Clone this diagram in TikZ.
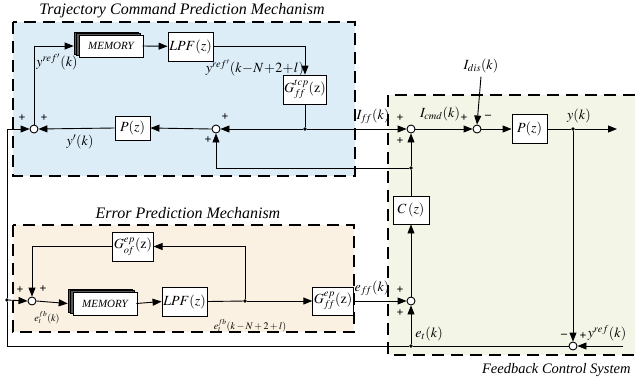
\documentclass[tikz,border=0pt]{standalone}
\usepackage{mathptmx}
\usepackage{fontspec}
\setmainfont{Liberation Serif}
\usetikzlibrary{arrows.meta,shadows}

\definecolor{tcpfill}{RGB}{221,237,248}
\definecolor{epfill}{RGB}{251,241,226}
\definecolor{fbfill}{RGB}{243,246,231}

\begin{document}
\begin{tikzpicture}[
x=1pt,y=-1pt,
font=\fontsize{14}{16}\selectfont,
flow/.style={-{Triangle[length=9pt,width=7pt]},line width=0.9pt},
wire/.style={line width=0.9pt},
block/.style={draw,line width=0.9pt,fill=white,minimum width=36pt,minimum height=28pt,inner sep=1pt},
memblock/.style={draw,line width=0.6pt,fill=white,minimum width=64pt,minimum height=22pt,font=\fontsize{11}{12}\selectfont\itshape,
  double copy shadow={shadow xshift=-2.5pt,shadow yshift=1.5pt,fill=black!65,draw=black}},
sumnode/.style={circle,draw,line width=0.9pt,fill=white,inner sep=0pt,minimum size=8pt},
junction/.style={circle,fill,inner sep=0pt,minimum size=3.8pt},
sign/.style={font=\fontsize{12}{12}\selectfont\bfseries,inner sep=0pt},
small/.style={font=\fontsize{10}{11}\selectfont},
region/.style={line width=2.5pt,dash pattern=on 12pt off 7pt},
title/.style={font=\fontsize{16}{18}\selectfont\itshape}
]
\useasboundingbox (0,0) rectangle (635,384);

% shaded regions
\fill[tcpfill] (13,22) rectangle (355,176);
\draw[region] (13,22) rectangle (355,176);
\fill[epfill] (13,225) rectangle (354,332);
\draw[region] (13,225) rectangle (354,332);
\fill[fbfill] (388,95) rectangle (635,355);
\draw[region] (635,95) -- (388,95) -- (388,355) -- (635,355);
\node[title] (tcptitle) at (182,11) {Trajectory Command Prediction Mechanism};
\node[title] (eptitle) at (188,213) {Error Prediction Mechanism};
\node[title,font=\fontsize{14.5}{16}\selectfont\itshape,anchor=east] (fbtitle) at (634,370) {Feedback Control System};

% trajectory command prediction
\node[sumnode] (s1) at (34,129) {};
\node[memblock] (mem1) at (111,46) {MEMORY};
\node[block,minimum width=45pt,minimum height=29pt] (lpf1) at (190.5,46.5) {$LPF(z)$};
\node[block,minimum width=38pt,minimum height=29pt] (gtcp) at (305,89.5) {$G_{f\!f}^{tcp}(\mathrm{z})$};
\node[junction] (j1) at (305,129) {};
\node[sumnode] (s2) at (216,129) {};
\node[block,minimum width=35pt,minimum height=24pt] (p1) at (132.5,128) {$P(z)$};

% feedback control system
\node[sumnode] (s3) at (411,129) {};
\node[sumnode] (s4) at (477,129) {};
\node (idis) at (481,66) {$I_{dis}(k)$};
\node[block,minimum width=35pt,minimum height=29pt] (p2) at (529.5,129) {$P(z)$};
\node[junction] (j2) at (573,129) {};
\coordinate (yout) at (617,129);
\node[sumnode] (s5) at (573,346) {};
\coordinate (yin) at (623,346);
\node[junction] (j3) at (411,346) {};
\node[sumnode] (s6) at (411,301) {};
\node[block,minimum width=36pt,minimum height=28pt] (cz) at (411,210) {$C\,(z)$};
\node[junction] (j4) at (411,168) {};
\coordinate (cbl) at (7,346);
\coordinate (ctl) at (7,129);
\node[junction] (j5) at (7,300) {};

% error prediction
\node[sumnode] (s7) at (32,301) {};
\node[block,minimum width=38pt,minimum height=29pt] (gof) at (133,246.5) {$G_{o\!f}^{ep}(\mathrm{z})$};
\node[memblock,minimum height=23pt] (mem2) at (105,303.5) {MEMORY};
\node[block,minimum width=45pt,minimum height=29pt] (lpf2) at (184.5,301.5) {$LPF(z)$};
\node[junction] (j6) at (245,301) {};
\node[block,minimum width=38pt,minimum height=28pt] (gffep) at (333,301) {$G_{f\!f}^{ep}(\mathrm{z})$};

% signal labels
\node (lyr1) at (57,62) {$y^{ref'}(k)$};
\node (lyr2) at (255,68) {$y^{ref'}(k\!-\!N\!+\!2\!+\!l)$};
\node (lyp) at (80,142) {$y'(k)$};
\node (liff) at (373,116) {$I_{f\!f}(k)$};
\node (licmd) at (440,114) {$I_{cmd}(k)$};
\node (ly) at (579,116) {$y(k)$};
\node (let) at (429,334) {$e_t(k)$};
\node (lyref) at (607,333) {$y^{ref}(k)$};
\node (leff) at (372,288) {$e_{f\!f}(k)$};
\node[small] (letfb) at (47,318) {$e_t^{fb}(k)$};
\node[small] (letfb2) at (250,326) {$e_t^{fb}(k-N+2+l)$};

% signs
\foreach \x/\y/\s in {22/118/+,44/118/+,225/117/+,208/140/+,400/118/+,400/141/+,464/118/+,488/117/--,
  564/336/--,583/336/+,400/290/+,400/313/+,20/290/+,43/289/+}
  \node[sign] at (\x,\y) {\s};

% connections
\draw[flow] (s1.north) |- ([xshift=-5pt]mem1.west);
\draw[flow] ([xshift=-1pt]mem1.east) -- (lpf1);
\draw[flow] (lpf1.east) -| (gtcp.north);
\draw[wire] (gtcp.south) -- (j1);
\draw[flow] (j1) -- (s2.east);
\draw[flow] (s2.west) -- (p1.east);
\draw[flow] (p1.west) -- (s1.east);
\draw[flow] (j1) -- (s3.west);
\draw[flow] (s3.east) -- (s4.west);
\draw[flow] (idis.south) -- (s4.north);
\draw[flow] (s4.east) -- (p2.west);
\draw[wire] (p2.east) -- (j2);
\draw[flow] (j2) -- (yout);
\draw[flow] (j2) -- (s5.north);
\draw[flow] (yin) -- (s5.east);
\draw[wire] (s5.west) -- (j3) -- (cbl) -- (j5);
\draw[flow] (j5) -- (ctl) -- (s1.west);
\draw[flow] (j3) -- (s6.south);
\draw[flow] (s6.north) -- (cz.south);
\draw[wire] (cz.north) -- (j4);
\draw[flow] (j4) -- (s3.south);
\draw[flow] (j4) -| (s2.south);
\draw[flow] (j5) -- (s7.west);
\draw[flow] (s7.east) -- ([xshift=-5pt]mem2.west);
\draw[flow] ([xshift=-1pt]mem2.east) -- (lpf2.west);
\draw[wire] (lpf2.east) -- (j6);
\draw[flow] (j6) -- (gffep.west);
\draw[flow] (j6) |- (gof.east);
\draw[flow] (gof.west) -| (s7.north);
\draw[flow] (gffep.east) -- (s6.west);
\end{tikzpicture}
\end{document}
